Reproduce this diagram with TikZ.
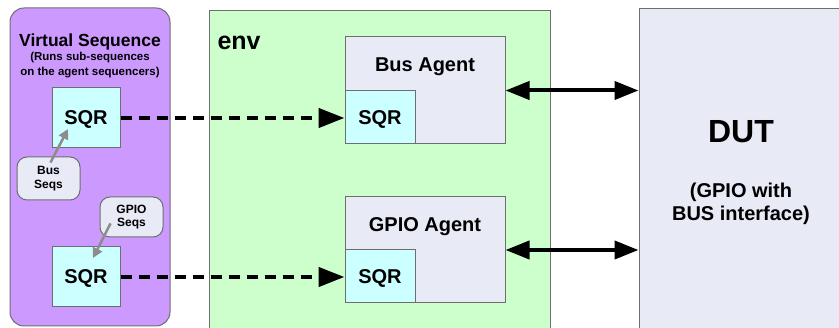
\documentclass[tikz,border=0pt]{standalone}
\usepackage{fontspec}
\setmainfont{Liberation Sans}
\usetikzlibrary{arrows.meta,fit}

\definecolor{vsPurple}{HTML}{CC99FF}
\definecolor{envGreen}{HTML}{CCFFCC}
\definecolor{sqrCyan}{HTML}{CCFFFF}
\definecolor{agentFill}{HTML}{E8EAF6}
\definecolor{edgeGray}{HTML}{6E6E6E}
\definecolor{seqGray}{HTML}{8C8C8C}

\newcommand{\fsz}[2]{\fontsize{#1}{#2}\selectfont}

\begin{document}
\begin{tikzpicture}[x=1pt, y=-1pt, font=\bfseries,
  frame/.style={draw=edgeGray, line width=1pt, inner sep=0pt},
  sqrbox/.style={frame, fill=sqrCyan},
  sqrtext/.style={font=\bfseries\fsz{20}{20}, text depth=0pt, inner sep=0pt},
  seqbox/.style={frame, fill=agentFill, rounded corners=10pt},
  seqtext/.style={align=center, font=\bfseries\fsz{12}{13.5}, inner sep=0pt},
  dasharrow/.style={line width=4.5pt, dash pattern=on 11pt off 7pt, -{Triangle[length=26pt,width=19pt]}},
  linkarrow/.style={line width=4pt, {Triangle[length=24pt,width=18pt]}-{Triangle[length=24pt,width=18pt]}},
  seqarrow/.style={draw=seqGray, line width=2.5pt, -{Triangle[length=10pt,width=10pt]}}]

\useasboundingbox (0,0) rectangle (839,328);
\clip (0,0) rectangle (839,328);

%------------------ VIRTUAL SEQUENCE ------------------%
\node[frame, fill=vsPurple, rounded corners=14pt, fit={(10,8) (170,326)}] (vseq) {};
\node[anchor=base, font=\bfseries\fsz{17.5}{17.5}] (vseqTitle) at (90,47) {Virtual Sequence};
\node[align=center, font=\bfseries\fsz{11.5}{14.5}] (vseqNote) at (90,65)
  {(Runs sub-sequences\\on the agent sequencers)};

\node[sqrbox, fit={(52,88) (120,148)}] (vsBusSqr) {};
\node[sqrtext] (vsBusSqrText) at (vsBusSqr.center) {SQR};
\node[sqrbox, fit={(52,247) (120,307)}] (vsGpioSqr) {};
\node[sqrtext] (vsGpioSqrText) at (vsGpioSqr.center) {SQR};

\node[seqbox, fit={(17,157) (80,200)}] (busSeqs) {};
\node[seqtext] (busSeqsText) at (busSeqs.center) {Bus\\Seqs};
\node[seqbox, fit={(100,197) (163,237)}] (gpioSeqs) {};
\node[seqtext] (gpioSeqsText) at (gpioSeqs.center) {GPIO\\Seqs};

\coordinate (busSeqsTip) at (68,129);
\coordinate (gpioSeqsTip) at (93,258);
\draw[seqarrow] ([shift={(2,6)}]busSeqs.north) -- (busSeqsTip);
\draw[seqarrow] ([shift={(-21,-14)}]gpioSeqs.south) -- (gpioSeqsTip);

%------------------ ENV ------------------%
\node[frame, fill=envGreen, fit={(209,11) (550,345)}] (env) {};
\node[anchor=base west, font=\bfseries\fsz{25}{25}] (envLabel) at (214,50) {env};

% Bus agent
\node[frame, fill=agentFill, fit={(345,37) (505,144)}] (busAgent) {};
\node[anchor=base, font=\bfseries\fsz{20}{20}] (busAgentLabel) at (425,72) {Bus Agent};
\node[sqrbox, fit={(345,91) (415,144)}] (busSqr) {};
\node[sqrtext] (busSqrText) at (busSqr.center) {SQR};

% GPIO agent
\node[frame, fill=agentFill, fit={(345,197) (505,303)}] (gpioAgent) {};
\node[anchor=base, font=\bfseries\fsz{20}{20}] (gpioAgentLabel) at (425,232) {GPIO Agent};
\node[sqrbox, fit={(345,250) (415,303)}] (gpioSqr) {};
\node[sqrtext] (gpioSqrText) at (gpioSqr.center) {SQR};

%------------------ DUT ------------------%
\node[frame, fill=agentFill, fit={(639,9) (860,345)}] (dut) {};
\node[anchor=base, font=\bfseries\fsz{32}{32}] (dutLabel) at (741,142.5) {DUT};
\node[align=center, font=\bfseries\fsz{20}{23}] (dutNote) at (741,204)
  {(GPIO with\\BUS interface)};

%------------------ CONNECTIONS ------------------%
\draw[dasharrow] (vsBusSqr.east) -- (vsBusSqr.east -| busSqr.west);
\draw[dasharrow] (vsGpioSqr.east) -- (vsGpioSqr.east -| gpioSqr.west);

\draw[linkarrow] (busAgent.east) -- (busAgent.east -| dut.west);
\draw[linkarrow] (gpioAgent.east) -- (gpioAgent.east -| dut.west);

\end{tikzpicture}
\end{document}
